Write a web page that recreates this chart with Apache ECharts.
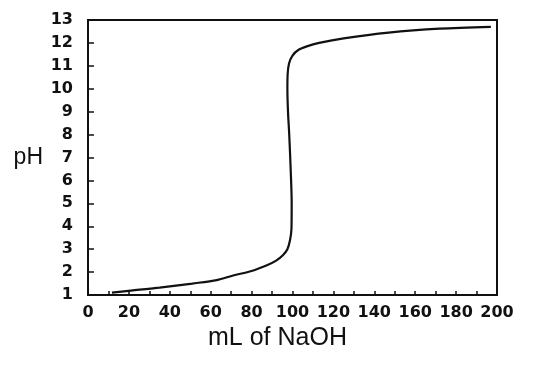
<!DOCTYPE html>
<html>
<head>
<meta charset="utf-8">
<script src="https://cdn.jsdelivr.net/npm/echarts@6/dist/echarts.min.js"></script>
<style>
  html, body { margin: 0; padding: 0; background: #fff; }
  #chart { width: 537px; height: 369px; }
</style>
</head>
<body>
<div id="chart"></div>
<script>
// titration curve
const volumeML = [11.7, 22, 35, 51, 63, 71, 80, 87.5, 92, 95.4, 97.5, 98.8, 99.5, 99.6, 99.1, 98.4, 97.8, 97.5, 97.6, 98.3, 100, 103, 107, 113, 125, 147, 172, 197];
const phValues = [1.1, 1.2, 1.32, 1.5, 1.65, 1.85, 2.05, 2.3, 2.5, 2.75, 3.0, 3.4, 3.9, 5, 6.5, 8, 9, 10, 10.6, 11.1, 11.45, 11.7, 11.85, 12.0, 12.2, 12.45, 12.62, 12.7];
const xTitle = 'mL of NaOH';
const yTitle = 'pH';

const chart = echarts.init(document.getElementById('chart'));
const labelStyle = { color: '#111', fontSize: 16, fontWeight: 'bold', fontFamily: 'DejaVu Sans' };

chart.setOption({
  backgroundColor: '#fff',
  animation: false,
  grid: { left: 88, right: 40, top: 20, bottom: 74, show: true, borderColor: '#111', borderWidth: 2 },
  xAxis: {
    type: 'value', min: 0, max: 200, interval: 20,
    name: xTitle, nameLocation: 'middle', nameGap: 31,
    nameTextStyle: { color: '#111', fontSize: 25, fontFamily: 'Liberation Sans', padding: [0, 30, 0, 0] },
    axisLine: { lineStyle: { color: '#111', width: 2 } },
    axisTick: { inside: true, length: 4, lineStyle: { color: '#111', width: 1.5 } },
    minorTick: { show: true, splitNumber: 2, length: 4, lineStyle: { color: '#111', width: 1.5 } },
    axisLabel: Object.assign({ margin: 10 }, labelStyle),
    splitLine: { show: false }
  },
  yAxis: {
    type: 'value', min: 1, max: 13, interval: 1,
    name: yTitle, nameLocation: 'middle', nameRotate: 0, nameGap: 45,
    nameTextStyle: { color: '#111', fontSize: 23, fontFamily: 'Liberation Sans' },
    axisLine: { lineStyle: { color: '#111', width: 2 } },
    axisTick: { inside: true, length: 6, lineStyle: { color: '#111', width: 1.5 } },
    axisLabel: Object.assign({ margin: 15 }, labelStyle),
    splitLine: { show: false }
  },
  series: [{
    type: 'line',
    data: volumeML.map((v, i) => [v, phValues[i]]),
    smooth: 0.3,
    showSymbol: false,
    lineStyle: { color: '#111', width: 2.2 }
  }]
});
</script>
</body>
</html>
